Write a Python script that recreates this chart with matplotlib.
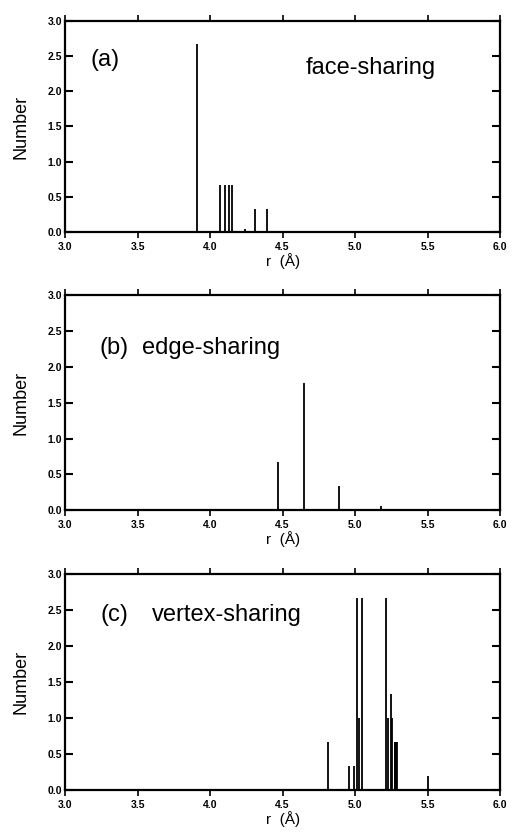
import matplotlib
matplotlib.use('Agg')
import matplotlib.pyplot as plt

plt.rcParams['font.family'] = ['Liberation Sans', 'DejaVu Sans']

# peak positions r (A) and counts for each sharing type
r_face = [3.91, 4.07, 4.105, 4.13, 4.15, 4.24, 4.31, 4.39]
n_face = [2.67, 0.67, 0.67, 0.67, 0.67, 0.04, 0.33, 0.33]

r_edge = [4.47, 4.65, 4.89, 5.18]
n_edge = [0.67, 1.78, 0.33, 0.06]

r_vertex = [4.81, 4.96, 4.99, 5.01, 5.025, 5.045, 5.21, 5.225, 5.245, 5.255,
            5.272, 5.278, 5.284, 5.29, 5.50]
n_vertex = [0.67, 0.33, 0.33, 2.67, 1.0, 2.67, 2.67, 1.0, 1.33, 1.0,
            0.67, 0.67, 0.67, 0.67, 0.2]

panel_tags = ['(a)', '(b)', '(c)']
panel_names = ['face-sharing', 'edge-sharing', 'vertex-sharing']
x_ticks = [3.0, 3.5, 4.0, 4.5, 5.0, 5.5, 6.0]
y_ticks = [0.0, 0.5, 1.0, 1.5, 2.0, 2.5, 3.0]

fig = plt.figure(figsize=(5.12, 8.39), dpi=100)

# left, bottom, width, height in figure fractions
boxes = [[0.127, 0.7235, 0.850, 0.2515],
         [0.127, 0.392, 0.850, 0.256],
         [0.127, 0.0584, 0.850, 0.257]]
# where the labels sit inside each panel (data coords)
tag_pos = [(3.276, 2.45), (3.34, 2.27), (3.34, 2.43)]
name_pos = [(4.66, 2.33), (3.53, 2.27), (3.60, 2.43)]

data = [(r_face, n_face), (r_edge, n_edge), (r_vertex, n_vertex)]

for i, (r, n) in enumerate(data):
    ax = fig.add_axes(boxes[i])
    ax.vlines(r, 0, n, colors='black', linewidth=1.3)

    ax.set_xlim(3.0, 6.0)
    ax.set_ylim(0.0, 3.0)
    ax.set_xticks(x_ticks)
    ax.set_yticks(y_ticks)
    ax.set_xticklabels([f'{t:.1f}' for t in x_ticks], fontsize=7.5, fontweight='bold')
    ax.set_yticklabels([f'{t:.1f}' for t in y_ticks], fontsize=7.5, fontweight='bold')

    ax.tick_params(axis='x', direction='out', top=True, length=4, width=1.2, pad=3)
    ax.tick_params(axis='y', direction='in', right=True, length=6, width=1.5, pad=2)
    for sp in ax.spines.values():
        sp.set_linewidth(1.6)

    ax.set_ylabel('Number', fontsize=13, labelpad=13)
    ax.set_xlabel('r  (Å)', fontsize=11, labelpad=1)

    ax.text(tag_pos[i][0], tag_pos[i][1], panel_tags[i], fontsize=17, va='center', ha='center')
    ax.text(name_pos[i][0], name_pos[i][1], panel_names[i], fontsize=17, va='center', ha='left')

fig.savefig('out.png', dpi=100)
